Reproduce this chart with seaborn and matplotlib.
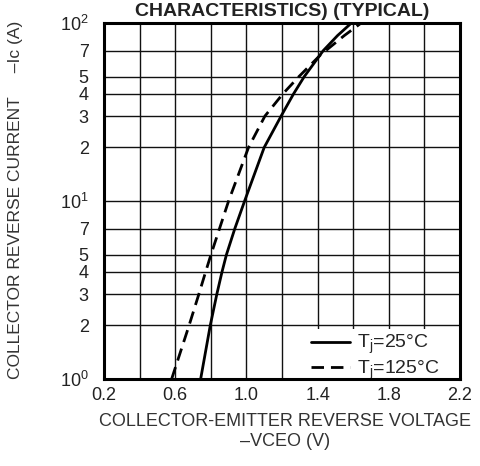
import numpy as np
import pandas as pd
import seaborn as sns
import matplotlib
matplotlib.use("Agg")
import matplotlib.pyplot as plt

# curve data
v_25 = [0.743, 0.797, 0.834, 0.863, 0.888, 0.935, 0.99, 1.1, 1.195, 1.265, 1.325, 1.432, 1.512, 1.59]
i_25 = [1, 2, 3, 4, 5, 7, 10, 20, 30, 40, 50, 70, 85, 100]

v_125 = [0.58, 0.678, 0.733, 0.771, 0.801, 0.849, 0.9, 1.012, 1.104, 1.205, 1.295, 1.415, 1.55, 1.645]
i_125 = [1, 2, 3, 4, 5, 7, 10, 20, 30, 40, 50, 66, 85, 100]

x_ticks = [0.2, 0.6, 1.0, 1.4, 1.8, 2.2]
x_grid = [0.4, 0.8, 1.2, 1.6, 2.0]
y_ticks = [1, 2, 3, 4, 5, 7, 10, 20, 30, 40, 50, 70, 100]
y_labels = [r"$\mathregular{10^0}$", "2", "3", "4", "5", "7", r"$\mathregular{10^1}$",
            "2", "3", "4", "5", "7", r"$\mathregular{10^2}$"]

sns.set_style("white")
plt.rcParams['font.family'] = ['Liberation Sans', 'DejaVu Sans']
plt.rcParams['mathtext.fontset'] = 'custom'
plt.rcParams['mathtext.rm'] = 'Liberation Sans'
plt.rcParams['mathtext.it'] = 'Liberation Sans:italic'

df25 = pd.DataFrame({"v": v_25, "i": i_25})
df125 = pd.DataFrame({"v": v_125, "i": i_125})

fig = plt.figure(figsize=(4.8, 4.66), dpi=100)
ax = fig.add_axes([104 / 480, 1 - 379 / 466, 356 / 480, 356 / 466])

sns.lineplot(data=df25, x="v", y="i", ax=ax, color="black", linewidth=2.0,
             label=r"T$_\mathregular{j}$=25°C", sort=False, zorder=3)
sns.lineplot(data=df125, x="v", y="i", ax=ax, color="black", linewidth=2.0,
             linestyle=(0, (4.5, 2.5)), label=r"T$_\mathregular{j}$=125°C", sort=False, zorder=3)

ax.set_yscale("log")
ax.set_xlim(0.2, 2.2)
ax.set_ylim(1, 100)

ax.set_xticks(x_ticks)
ax.set_xticklabels([f"{t:.1f}" for t in x_ticks], fontsize=13, color="#222222")
ax.set_xticks(x_grid, minor=True)
ax.set_yticks(y_ticks)
ax.set_yticklabels(y_labels, fontsize=13, color="#222222")
ax.yaxis.set_minor_locator(matplotlib.ticker.NullLocator())
ax.tick_params(axis="both", which="both", length=0)
ax.tick_params(axis="x", pad=6)
ax.tick_params(axis="y", pad=11)

ax.grid(True, which="major", color="#111111", linewidth=1.0)
ax.grid(True, which="minor", axis="x", color="#111111", linewidth=1.0)
for s in ax.spines.values():
    s.set_linewidth(2.2)
    s.set_color("black")
    s.set_zorder(4)

ax.set_xlabel("")
ax.set_ylabel("")

leg = ax.legend(loc="lower right", bbox_to_anchor=(0.955, -0.018), frameon=True, fontsize=14,
                handlelength=2.0, borderaxespad=0.0, handletextpad=0.4, labelspacing=0.1,
                borderpad=0.2)
leg.get_frame().set_edgecolor("none")
leg.get_frame().set_facecolor("white")
leg.get_frame().set_alpha(1.0)
leg.set_zorder(3.5)

fig.text(282 / 480, 1 - 11 / 466, "CHARACTERISTICS) (TYPICAL)", ha="center", va="center",
         fontsize=14, fontweight="bold", color="#222222")
fig.text(16 / 480, 1 - 200 / 466, "COLLECTOR REVERSE CURRENT     –Ic (A)", rotation=90,
         ha="center", va="center", fontsize=12.5, color="#333333")
fig.text(285 / 480, 1 - 422 / 466, "COLLECTOR-EMITTER REVERSE VOLTAGE", ha="center",
         va="center", fontsize=13, color="#333333")
fig.text(285 / 480, 1 - 441 / 466, "–VCEO (V)", ha="center", va="center",
         fontsize=13, color="#333333")

fig.savefig("out.png", dpi=100)
